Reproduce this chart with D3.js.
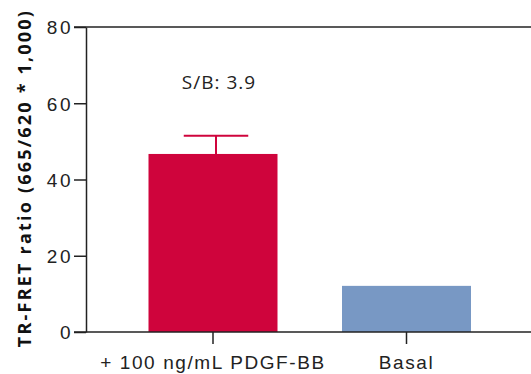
<!DOCTYPE html>
<html>
<head>
<meta charset="utf-8">
<script src="https://cdn.jsdelivr.net/npm/d3@7"></script>
<style>
  body { margin: 0; background: #fff; }
  svg { display: block; font-family: "Open Sans", sans-serif; }
</style>
</head>
<body>
<div id="chart"></div>
<script>
let categories = ["+ 100 ng/mL PDGF-BB", "Basal"];
let values = [46.7, 12.1];
let errors = [4.8, 0];
let barColors = ["#cf043c", "#7898c4"];
let yTicks = [0, 20, 40, 60, 80];
let sbLabel = "S/B: 3.9";

let width = 531, height = 374;
let plotLeft = 86, plotTop = 27, plotBottom = 332;

let svg = d3.select("#chart")
            .append("svg")
            .attr("width", width)
            .attr("height", height);

let y = d3.scaleLinear().domain([0, 80]).range([plotBottom, plotTop]);
let x = d3.scaleBand()
          .domain(categories)
          .range([116.25, 503.25])
          .paddingInner(1/3)
          .paddingOuter(1/6);

// bars
svg.selectAll(".bar")
    .data(categories)
    .enter().append("rect")
    .attr("class", "bar")
    .attr("x", d => x(d))
    .attr("y", (d, i) => y(values[i]))
    .attr("width", x.bandwidth())
    .attr("height", (d, i) => y(0) - y(values[i]))
    .style("fill", (d, i) => barColors[i]);

// error bar (upper only)
let err = svg.append("g").style("stroke", barColors[0]).style("stroke-width", 2);
let cx = x(categories[0]) + x.bandwidth() / 2 + 3;
err.append("line")
    .attr("x1", cx).attr("x2", cx)
    .attr("y1", y(values[0])).attr("y2", y(values[0] + errors[0]));
err.append("line")
    .attr("x1", cx - x.bandwidth() / 4).attr("x2", cx + x.bandwidth() / 4)
    .attr("y1", y(values[0] + errors[0])).attr("y2", y(values[0] + errors[0]));

// y axis
let yAxis = svg.append("g")
    .attr("transform", "translate(" + plotLeft + ",0)")
    .call(d3.axisLeft(y).tickValues(yTicks).tickSize(12).tickSizeOuter(0).tickPadding(1));
yAxis.selectAll("text")
    .style("font-size", "19px").style("letter-spacing", "2.5px")
    .style("fill", "#222").attr("dy", "0.36em");

// x axis
let xAxis = svg.append("g")
    .attr("transform", "translate(0," + plotBottom + ")")
    .call(d3.axisBottom(x).tickSize(12).tickSizeOuter(0).tickPadding(12));
xAxis.select(".domain").remove();
xAxis.selectAll("text")
    .style("font-size", "19px").style("letter-spacing", "1.6px")
    .style("fill", "#222");

svg.selectAll(".tick line, .domain").style("stroke", "#222").style("stroke-width", 1.5);

// frame lines top and bottom
[0, 80].forEach(v => {
    svg.append("line")
        .attr("x1", plotLeft - 12).attr("x2", width)
        .attr("y1", y(v)).attr("y2", y(v))
        .style("stroke", "#222").style("stroke-width", 1.5);
});

// S/B label
svg.append("text")
    .attr("x", 219).attr("y", 89)
    .attr("text-anchor", "middle")
    .style("font-size", "19px")
    .style("letter-spacing", "1px")
    .style("fill", "#222")
    .text(sbLabel);

// y axis title
svg.append("text")
    .attr("transform", "translate(31,178) rotate(-90)")
    .attr("text-anchor", "middle")
    .style("font-size", "18px")
    .style("font-weight", "bold")
    .style("letter-spacing", "2.2px")
    .style("fill", "#111")
    .text("TR-FRET ratio (665/620 * 1,000)");
</script>
</body>
</html>
